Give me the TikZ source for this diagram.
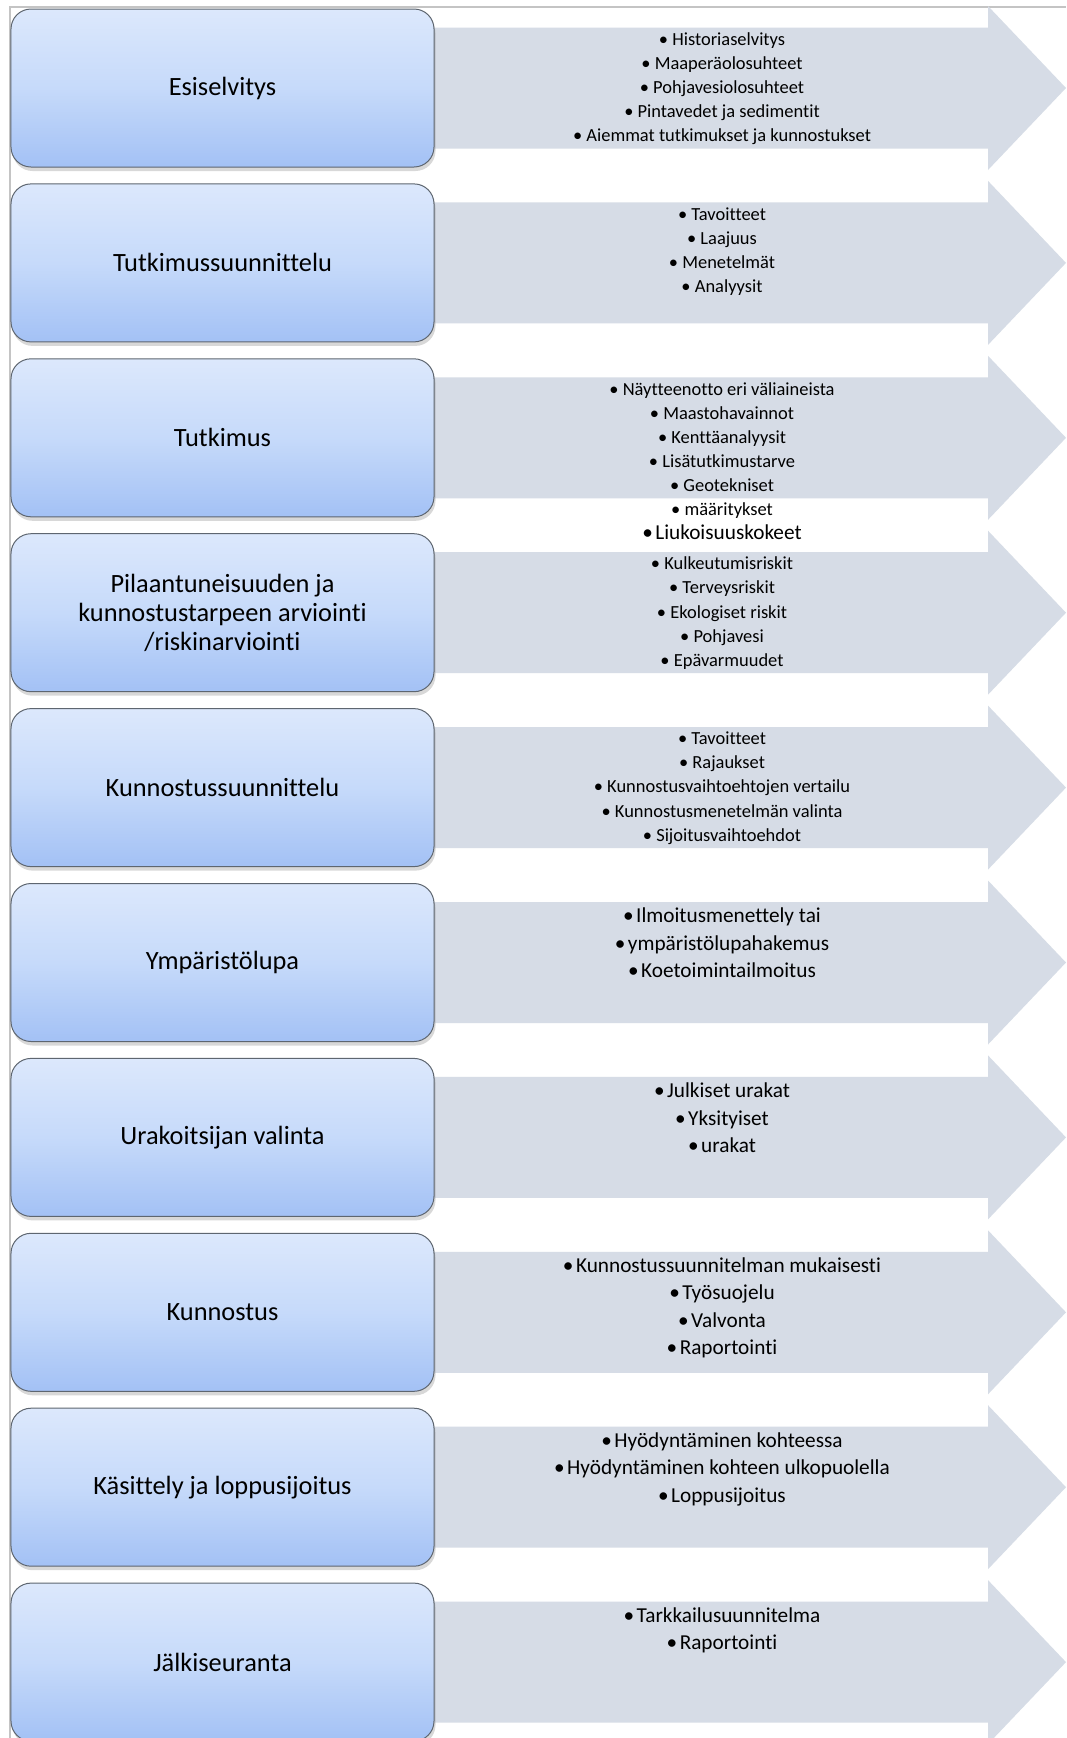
\documentclass[tikz,border=0pt]{standalone}
\usepackage{fontspec}
\setmainfont{Carlito}[Ligatures=NoCommon]
\usetikzlibrary{shadows}
\definecolor{boxtop}{HTML}{DCE8FC}
\definecolor{boxmid}{HTML}{C6DAFA}
\definecolor{boxbot}{HTML}{A3C1F5}
\definecolor{bandgrey}{HTML}{D6DCE6}
\definecolor{edgegrey}{HTML}{5E6670}
\definecolor{framegrey}{HTML}{C4C4C4}

\begin{document}
\begin{tikzpicture}[x=0.2mm, y=-0.2mm,
	phase/.style={draw=edgegrey, line width=0.2mm, rounded corners=4mm, minimum width=84.6mm, minimum height=31.6mm, top color=boxtop, bottom color=boxbot, middle color=boxmid, drop shadow={shadow xshift=0.3mm, shadow yshift=-0.8mm, opacity=0.3}, align=center, font=\fontsize{15}{16.4}\selectfont},
	band/.style={fill=bandgrey},
	items/.style={anchor=north, inner sep=0pt, align=center, font=\fontsize{10.5}{13.7}\selectfont},
	bigitems/.style={items, font=\fontsize{12.1}{15.5}\selectfont}]
	\useasboundingbox (0,0) rectangle (1066,1738);
	\fill[white] (0,0) rectangle (1066,1738);
	\draw[framegrey, line width=0.3mm] (10,1738) -- (10,7) -- (1066,7);
	% arrows behind the phases
	\fill[band] (420,27.5) -- ++(568,0) -- ++(0,-21.5) -- ++(78,82) -- ++(-78,82) -- ++(0,-21.5) -- ++(-568,0) -- cycle;
	\fill[band] (420,202.4) -- ++(568,0) -- ++(0,-21.5) -- ++(78,82) -- ++(-78,82) -- ++(0,-21.5) -- ++(-568,0) -- cycle;
	\fill[band] (420,377.3) -- ++(568,0) -- ++(0,-21.5) -- ++(78,82) -- ++(-78,82) -- ++(0,-21.5) -- ++(-568,0) -- cycle;
	\fill[band] (420,552.2) -- ++(568,0) -- ++(0,-21.5) -- ++(78,82) -- ++(-78,82) -- ++(0,-21.5) -- ++(-568,0) -- cycle;
	\fill[band] (420,727.1) -- ++(568,0) -- ++(0,-21.5) -- ++(78,82) -- ++(-78,82) -- ++(0,-21.5) -- ++(-568,0) -- cycle;
	\fill[band] (420,902.0) -- ++(568,0) -- ++(0,-21.5) -- ++(78,82) -- ++(-78,82) -- ++(0,-21.5) -- ++(-568,0) -- cycle;
	\fill[band] (420,1076.9) -- ++(568,0) -- ++(0,-21.5) -- ++(78,82) -- ++(-78,82) -- ++(0,-21.5) -- ++(-568,0) -- cycle;
	\fill[band] (420,1251.8) -- ++(568,0) -- ++(0,-21.5) -- ++(78,82) -- ++(-78,82) -- ++(0,-21.5) -- ++(-568,0) -- cycle;
	\fill[band] (420,1426.7) -- ++(568,0) -- ++(0,-21.5) -- ++(78,82) -- ++(-78,82) -- ++(0,-21.5) -- ++(-568,0) -- cycle;
	\fill[band] (420,1601.6) -- ++(568,0) -- ++(0,-21.5) -- ++(78,82) -- ++(-78,82) -- ++(0,-21.5) -- ++(-568,0) -- cycle;
	% phases
	\node[phase] (esi) at (222.5,88) {Esiselvitys};
	\node[phase] (tsuun) at (222.5,262.9) {Tutkimussuunnittelu};
	\node[phase] (tutk) at (222.5,437.8) {Tutkimus};
	\node[phase] (arvio) at (222.5,612.7) {Pilaantuneisuuden ja\\kunnostustarpeen arviointi\\/riskinarviointi};
	\node[phase] (ksuun) at (222.5,787.6) {Kunnostussuunnittelu};
	\node[phase] (lupa) at (222.5,962.5) {Ympäristölupa};
	\node[phase] (urak) at (222.5,1137.4) {Urakoitsijan valinta};
	\node[phase] (kunn) at (222.5,1312.3) {Kunnostus};
	\node[phase] (kasit) at (222.5,1487.2) {Käsittely ja loppusijoitus};
	\node[phase] (jalki) at (222.5,1662.1) {Jälkiseuranta};
	% contents of each phase
	\node[items] (esi-l) at (722,28) {\strut• Historiaselvitys\\• Maaperäolosuhteet\\• Pohjavesiolosuhteet\\• Pintavedet ja sedimentit\\• Aiemmat tutkimukset ja kunnostukset};
	\node[items] (tsuun-l) at (722,202.9) {\strut• Tavoitteet\\• Laajuus\\• Menetelmät\\• Analyysit};
	\node[items] (tutk-l) at (722,377.8) {\strut• Näytteenotto eri väliaineista\\• Maastohavainnot\\• Kenttäanalyysit\\• Lisätutkimustarve\\• Geotekniset\\• määritykset\\{\fontsize{12.1}{13.7}\selectfont•\kern1.4pt Liukoisuuskokeet}};
	\node[items] (arvio-l) at (722,552.7) {\strut• Kulkeutumisriskit\\• Terveysriskit\\• Ekologiset riskit\\• Pohjavesi\\• Epävarmuudet};
	\node[items] (ksuun-l) at (722,727.6) {\strut• Tavoitteet\\• Rajaukset\\• Kunnostusvaihtoehtojen vertailu\\• Kunnostusmenetelmän valinta\\• Sijoitusvaihtoehdot};
	\node[bigitems] (lupa-l) at (722,903.5) {\strut•\kern1.4pt Ilmoitusmenettely tai\\•\kern1.4pt ympäristölupahakemus\\•\kern1.4pt Koetoimintailmoitus};
	\node[bigitems] (urak-l) at (722,1078.4) {\strut•\kern1.4pt Julkiset urakat\\•\kern1.4pt Yksityiset\\•\kern1.4pt urakat};
	\node[bigitems] (kunn-l) at (722,1253.3) {\strut•\kern1.4pt Kunnostussuunnitelman mukaisesti\\•\kern1.4pt Työsuojelu\\•\kern1.4pt Valvonta\\•\kern1.4pt Raportointi};
	\node[bigitems] (kasit-l) at (722,1428.2) {\strut•\kern1.4pt Hyödyntäminen kohteessa\\•\kern1.4pt Hyödyntäminen kohteen ulkopuolella\\•\kern1.4pt Loppusijoitus};
	\node[bigitems] (jalki-l) at (722,1603.1) {\strut•\kern1.4pt Tarkkailusuunnitelma\\•\kern1.4pt Raportointi};
\end{tikzpicture}
\end{document}
